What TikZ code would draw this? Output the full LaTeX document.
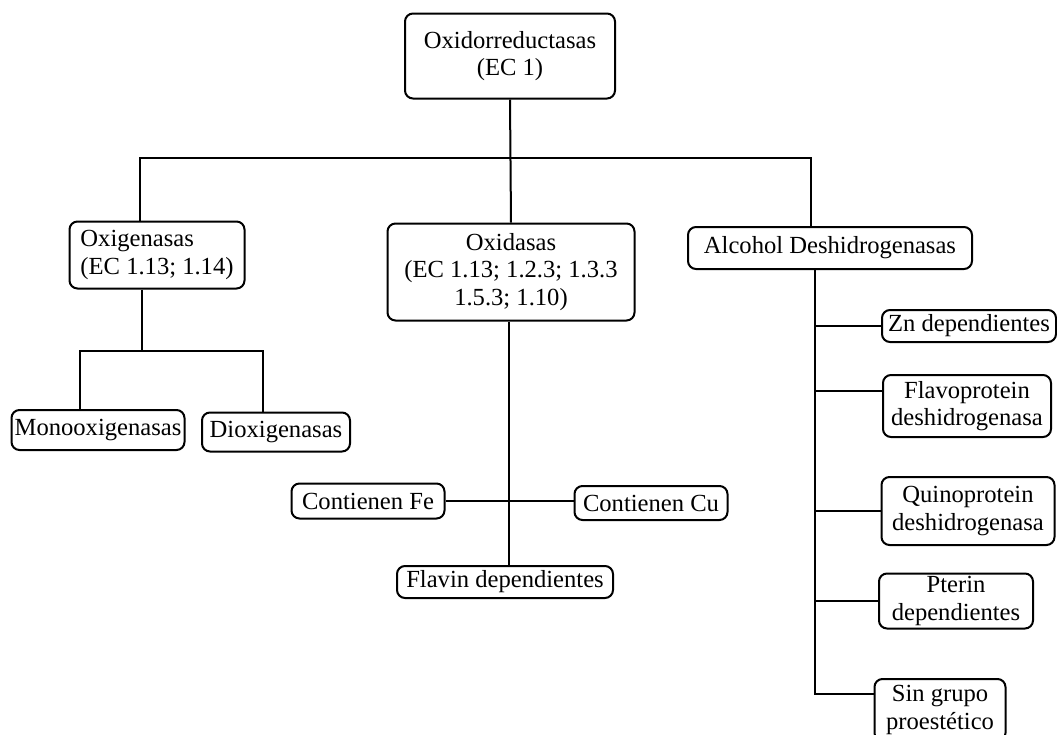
\documentclass[tikz,border=0pt]{standalone}
\usepackage{fontspec}
\setmainfont{Liberation Serif}
\usepackage{tikz}
\usetikzlibrary{positioning,calc}

\begin{document}
\begin{tikzpicture}[
  x=0.5pt, y=-0.5pt,
  every node/.style={font=\fontsize{12.3}{13.8}\selectfont},
  box/.style={draw,rounded corners=4pt,line width=1pt,align=center,inner sep=1pt},
  link/.style={line width=1pt}
]
  \useasboundingbox (0,0) rectangle (1057,735);

  % raiz
  \node[box,minimum width=105pt,minimum height=42.5pt] (root) at (510,56)
    {Oxidorreductasas\\(EC 1)};

  % tres grupos
  \node[box,align=left,minimum width=87.5pt,minimum height=33.5pt] (oxig) at (157,255)
    {Oxigenasas\\(EC 1.13; 1.14)};
  \node[box,minimum width=123.5pt,minimum height=48.5pt] (oxid) at (511,272)
    {Oxidasas\\(EC 1.13; 1.2.3; 1.3.3\\1.5.3; 1.10)};
  \node[box,minimum width=142pt,minimum height=21pt] (adh) at (830,248)
    {Alcohol Deshidrogenasas};

  % oxigenasas
  \node[box,minimum width=86.5pt,minimum height=20pt] (mono) at (98,430) {Monooxigenasas};
  \node[box,minimum width=74pt,minimum height=19.5pt] (diox) at (276,432) {Dioxigenasas};

  % oxidasas
  \node[box,minimum width=76.5pt,minimum height=17.5pt] (fe) at (368,501) {Contienen Fe};
  \node[box,minimum width=76.5pt,minimum height=17pt] (cu) at (651,503) {Contienen Cu};
  \node[box,minimum width=108pt,minimum height=16pt] (flavin) at (505,582) {Flavin dependientes};

  % alcohol deshidrogenasas
  \node[box,minimum width=87pt,minimum height=16pt] (zn) at (969,326) {Zn dependientes};
  \node[box,minimum width=84pt,minimum height=31pt] (flavo) at (967,406)
    {Flavoprotein\\deshidrogenasa};
  \node[box,minimum width=86.5pt,minimum height=34pt] (quino) at (968,511)
    {Quinoprotein\\deshidrogenasa};
  \node[box,minimum width=77pt,minimum height=27.5pt] (pterin) at (956,601)
    {Pterin\\dependientes};
  \node[box,minimum width=65.5pt,minimum height=31pt] (sin) at (940,710)
    {Sin grupo\\proest\'etico};

  % conexiones
  \draw[link] (root.south) -- (oxid.north);
  \draw[link] ([xshift=-8.5pt]oxig.north) |- (510,158) -| ([xshift=-9.5pt]adh.north);

  \draw[link] ([xshift=-7.5pt]oxig.south) coordinate (oxtop) -- ++(0,61) coordinate (oxbus);
  \draw[link] ([xshift=-9pt]mono.north) |- (oxbus) -| ([xshift=-6.5pt]diox.north);

  \draw[link] ([xshift=-1pt]oxid.south) coordinate (oxdtop) -- (oxdtop |- flavin.north);
  \draw[link] (fe.east) -- (fe.east -| cu.west);

  \draw[link] ([xshift=-7.5pt]adh.south) coordinate (adhtop) |- ([yshift=8pt]sin.west);
  \draw[link] (adhtop |- zn.west) -- (zn.west);
  \draw[link] ([yshift=7.5pt]flavo.west) coordinate (flavoin) -- (adhtop |- flavoin);
  \draw[link] (adhtop |- quino.west) -- (quino.west);
  \draw[link] (adhtop |- pterin.west) -- (pterin.west);
\end{tikzpicture}
\end{document}
